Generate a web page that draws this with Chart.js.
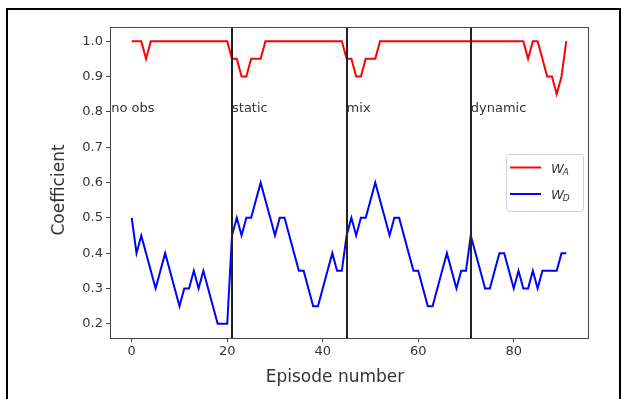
<!DOCTYPE html>
<html>
<head>
<meta charset="utf-8">
<script src="https://cdn.jsdelivr.net/npm/chart.js@4.4.1/dist/chart.umd.min.js"></script>
<style>
  html, body { margin: 0; padding: 0; background: #fff; }
  #wrap { width: 627px; height: 399px; }
</style>
</head>
<body>
<div id="wrap"><canvas id="coefChart" width="627" height="399"></canvas></div>
<script>
// episode index (x) and the two coefficient traces
const episodes = [
  0, 1, 2, 3, 4, 5, 6, 7, 8, 9,
  10, 11, 12, 13, 14, 15, 16, 17, 18, 19,
  20, 21, 22, 23, 24, 25, 26, 27, 28, 29,
  30, 31, 32, 33, 34, 35, 36, 37, 38, 39,
  40, 41, 42, 43, 44, 45, 46, 47, 48, 49,
  50, 51, 52, 53, 54, 55, 56, 57, 58, 59,
  60, 61, 62, 63, 64, 65, 66, 67, 68, 69,
  70, 71, 72, 73, 74, 75, 76, 77, 78, 79,
  80, 81, 82, 83, 84, 85, 86, 87, 88, 89,
  90, 91
];
const weightA = [
  1, 1, 1, 0.95, 1, 1, 1, 1, 1, 1,
  1, 1, 1, 1, 1, 1, 1, 1, 1, 1,
  1, 0.95, 0.95, 0.9, 0.9, 0.95, 0.95, 0.95, 1, 1,
  1, 1, 1, 1, 1, 1, 1, 1, 1, 1,
  1, 1, 1, 1, 1, 0.95, 0.95, 0.9, 0.9, 0.95,
  0.95, 0.95, 1, 1, 1, 1, 1, 1, 1, 1,
  1, 1, 1, 1, 1, 1, 1, 1, 1, 1,
  1, 1, 1, 1, 1, 1, 1, 1, 1, 1,
  1, 1, 1, 0.95, 1, 1, 0.95, 0.9, 0.9, 0.85,
  0.9, 1
];
const weightD = [
  0.5, 0.4, 0.45, 0.4, 0.35, 0.3, 0.35, 0.4, 0.35, 0.3,
  0.25, 0.3, 0.3, 0.35, 0.3, 0.35, 0.3, 0.25, 0.2, 0.2,
  0.2, 0.45, 0.5, 0.45, 0.5, 0.5, 0.55, 0.6, 0.55, 0.5,
  0.45, 0.5, 0.5, 0.45, 0.4, 0.35, 0.35, 0.3, 0.25, 0.25,
  0.3, 0.35, 0.4, 0.35, 0.35, 0.45, 0.5, 0.45, 0.5, 0.5,
  0.55, 0.6, 0.55, 0.5, 0.45, 0.5, 0.5, 0.45, 0.4, 0.35,
  0.35, 0.3, 0.25, 0.25, 0.3, 0.35, 0.4, 0.35, 0.3, 0.35,
  0.35, 0.45, 0.4, 0.35, 0.3, 0.3, 0.35, 0.4, 0.4, 0.35,
  0.3, 0.35, 0.3, 0.3, 0.35, 0.3, 0.35, 0.35, 0.35, 0.35,
  0.4, 0.4
];

// phase boundaries and their captions
const phaseStarts = [21, 45, 71];
const phaseNames = ['no obs', 'static', 'mix', 'dynamic'];
const phaseLabelX = [-4.3, 21, 45, 71];
const phaseLabelY = 0.8;

const xTicks = [0, 20, 40, 60, 80];
const yTicks = [0.2, 0.3, 0.4, 0.5, 0.6, 0.7, 0.8, 0.9, 1.0];
const xRange = [-4.55, 95.55];
const yRange = [0.16, 1.04];

const FONT = "'DejaVu Sans', sans-serif";
const INK = '#333333';

function toPoints(ys) {
  return episodes.map((ep, i) => ({ x: ep, y: ys[i] }));
}

// box, phase lines, captions, axis titles, legend and the outer frame
const decorations = {
  id: 'decorations',
  afterDatasetsDraw(chart) {
    const { ctx, chartArea: a, scales: { x, y } } = chart;
    ctx.save();

    // phase separators
    ctx.strokeStyle = '#222';
    ctx.lineWidth = 2;
    phaseStarts.forEach(v => {
      const px = Math.round(x.getPixelForValue(v));
      ctx.beginPath();
      ctx.moveTo(px, a.top);
      ctx.lineTo(px, a.bottom);
      ctx.stroke();
    });

    // captions
    ctx.fillStyle = INK;
    ctx.font = '13px ' + FONT;
    ctx.textBaseline = 'alphabetic';
    ctx.textAlign = 'left';
    phaseNames.forEach((name, i) => {
      ctx.fillText(name, x.getPixelForValue(phaseLabelX[i]), y.getPixelForValue(phaseLabelY));
    });

    // axes box
    ctx.strokeStyle = '#444';
    ctx.lineWidth = 1;
    ctx.strokeRect(Math.round(a.left) + 0.5, Math.round(a.top) + 0.5,
      Math.round(a.right - a.left), Math.round(a.bottom - a.top));

    // axis titles
    ctx.fillStyle = INK;
    ctx.font = '17px ' + FONT;
    ctx.textAlign = 'center';
    ctx.textBaseline = 'middle';
    ctx.fillText('Episode number', 335, 378);
    ctx.save();
    ctx.translate(60, 190);
    ctx.rotate(-Math.PI / 2);
    ctx.fillText('Coefficient', 0, 0);
    ctx.restore();

    // legend
    const lw = 77, lh = 57;
    const lx = a.right - 5 - lw, ly = a.top + 127;
    ctx.beginPath();
    ctx.roundRect(lx + 0.5, ly + 0.5, lw, lh, 3);
    ctx.fillStyle = 'rgba(255,255,255,0.8)';
    ctx.fill();
    ctx.strokeStyle = '#d0d0d0';
    ctx.lineWidth = 1;
    ctx.stroke();
    const entries = [
      { color: 'rgb(255,0,0)', sub: 'A' },
      { color: 'rgb(0,0,255)', sub: 'D' }
    ];
    ctx.textAlign = 'left';
    entries.forEach((e, i) => {
      const cy = ly + 13.5 + i * 26.5;
      ctx.strokeStyle = e.color;
      ctx.lineWidth = 2;
      ctx.beginPath();
      ctx.moveTo(lx + 4, cy);
      ctx.lineTo(lx + 35, cy);
      ctx.stroke();
      ctx.fillStyle = INK;
      ctx.textBaseline = 'alphabetic';
      ctx.font = 'italic 13px ' + FONT;
      ctx.fillText('W', lx + 45, cy + 5);
      const ww = ctx.measureText('W').width;
      ctx.font = 'italic 9px ' + FONT;
      ctx.fillText(e.sub, lx + 45 + ww - 1, cy + 7);
    });

    ctx.restore();
  },
  afterDraw(chart) {
    const { ctx } = chart;
    ctx.save();
    ctx.strokeStyle = '#000';
    ctx.lineWidth = 2;
    ctx.strokeRect(7, 9, 613, 400);
    ctx.restore();
  }
};

const ctx = document.getElementById('coefChart').getContext('2d');
new Chart(ctx, {
  type: 'line',
  data: {
    datasets: [
      {
        label: 'W_A',
        data: toPoints(weightA),
        borderColor: 'rgb(255,0,0)',
        borderWidth: 2,
        pointRadius: 0,
        tension: 0,
        fill: false
      },
      {
        label: 'W_D',
        data: toPoints(weightD),
        borderColor: 'rgb(0,0,255)',
        borderWidth: 2,
        pointRadius: 0,
        tension: 0,
        fill: false
      }
    ]
  },
  options: {
    responsive: false,
    maintainAspectRatio: false,
    animation: false,
    devicePixelRatio: 1,
    layout: { padding: { left: 0, top: 27, right: 39, bottom: 0 } },
    plugins: {
      legend: { display: false },
      tooltip: { enabled: false }
    },
    scales: {
      x: {
        type: 'linear',
        min: xRange[0],
        max: xRange[1],
        afterBuildTicks: s => { s.ticks = xTicks.map(v => ({ value: v })); },
        afterFit: s => { s.height = 61; },
        grid: { drawOnChartArea: false, drawTicks: true, tickLength: 4, tickColor: '#444' },
        border: { display: false },
        ticks: {
          color: INK,
          font: { family: FONT, size: 13 },
          padding: 2,
          maxRotation: 0,
          callback: v => String(v)
        }
      },
      y: {
        type: 'linear',
        min: yRange[0],
        max: yRange[1],
        afterBuildTicks: s => { s.ticks = yTicks.map(v => ({ value: v })); },
        afterFit: s => { s.width = 110; },
        grid: { drawOnChartArea: false, drawTicks: true, tickLength: 4, tickColor: '#444' },
        border: { display: false },
        ticks: {
          color: INK,
          font: { family: FONT, size: 13 },
          padding: 3,
          callback: v => v.toFixed(1)
        }
      }
    }
  },
  plugins: [decorations]
});
</script>
</body>
</html>
